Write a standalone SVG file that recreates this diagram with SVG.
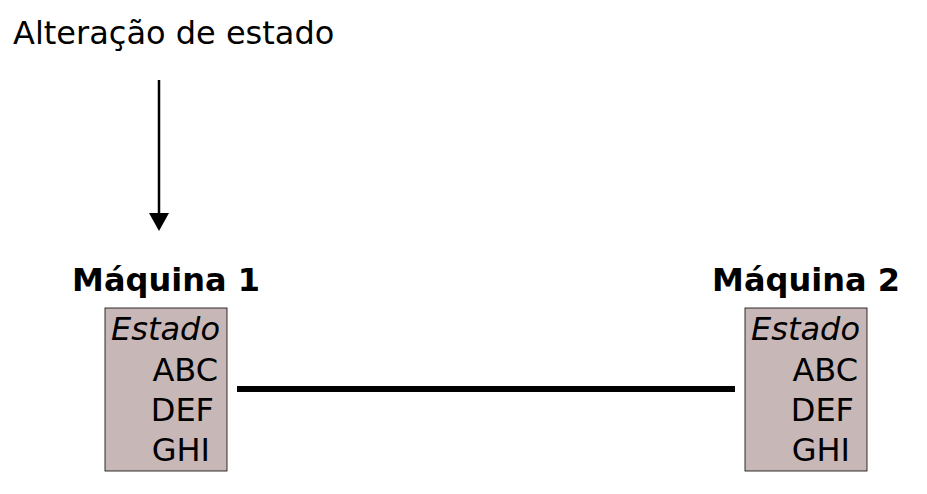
<svg xmlns="http://www.w3.org/2000/svg" width="927" height="494" viewBox="0 0 927 494">
<style>
text{font-family:"DejaVu Sans",sans-serif;font-size:32px;fill:#000}
.t{font-weight:bold}
.box{fill:#c8b7b7;stroke:#000;stroke-width:0.8}
.r{text-anchor:end}
.i{font-style:italic}
</style>
<defs>
<marker id="ah" markerWidth="18" markerHeight="20" refX="1" refY="10" orient="auto" markerUnits="userSpaceOnUse" viewBox="0 0 18 20">
<path d="M0,0 L18,10 L0,20 Z" fill="#000"/>
</marker>
</defs>
<text x="13" y="44">Alteração de estado</text>
<g id="connectors">
<line x1="159" y1="80" x2="159" y2="214" stroke="#000" stroke-width="2.5" marker-end="url(#ah)"/>
<line x1="237" y1="389" x2="735" y2="389" stroke="#000" stroke-width="6"/>
</g>
<g id="m1">
<text class="t" x="166" y="291" text-anchor="middle">Máquina 1</text>
<rect class="box" x="105" y="308" width="122" height="163"/>
<text class="r i" x="220" y="340">Estado</text>
<text class="r" x="218" y="381">ABC</text>
<text class="r" x="214" y="421">DEF</text>
<text class="r" x="210" y="461">GHI</text>
</g>
<g id="m2">
<text class="t" x="806" y="291" text-anchor="middle">Máquina 2</text>
<rect class="box" x="745" y="308" width="122" height="163"/>
<text class="r i" x="860" y="340">Estado</text>
<text class="r" x="858" y="381">ABC</text>
<text class="r" x="854" y="421">DEF</text>
<text class="r" x="850" y="461">GHI</text>
</g>
</svg>
